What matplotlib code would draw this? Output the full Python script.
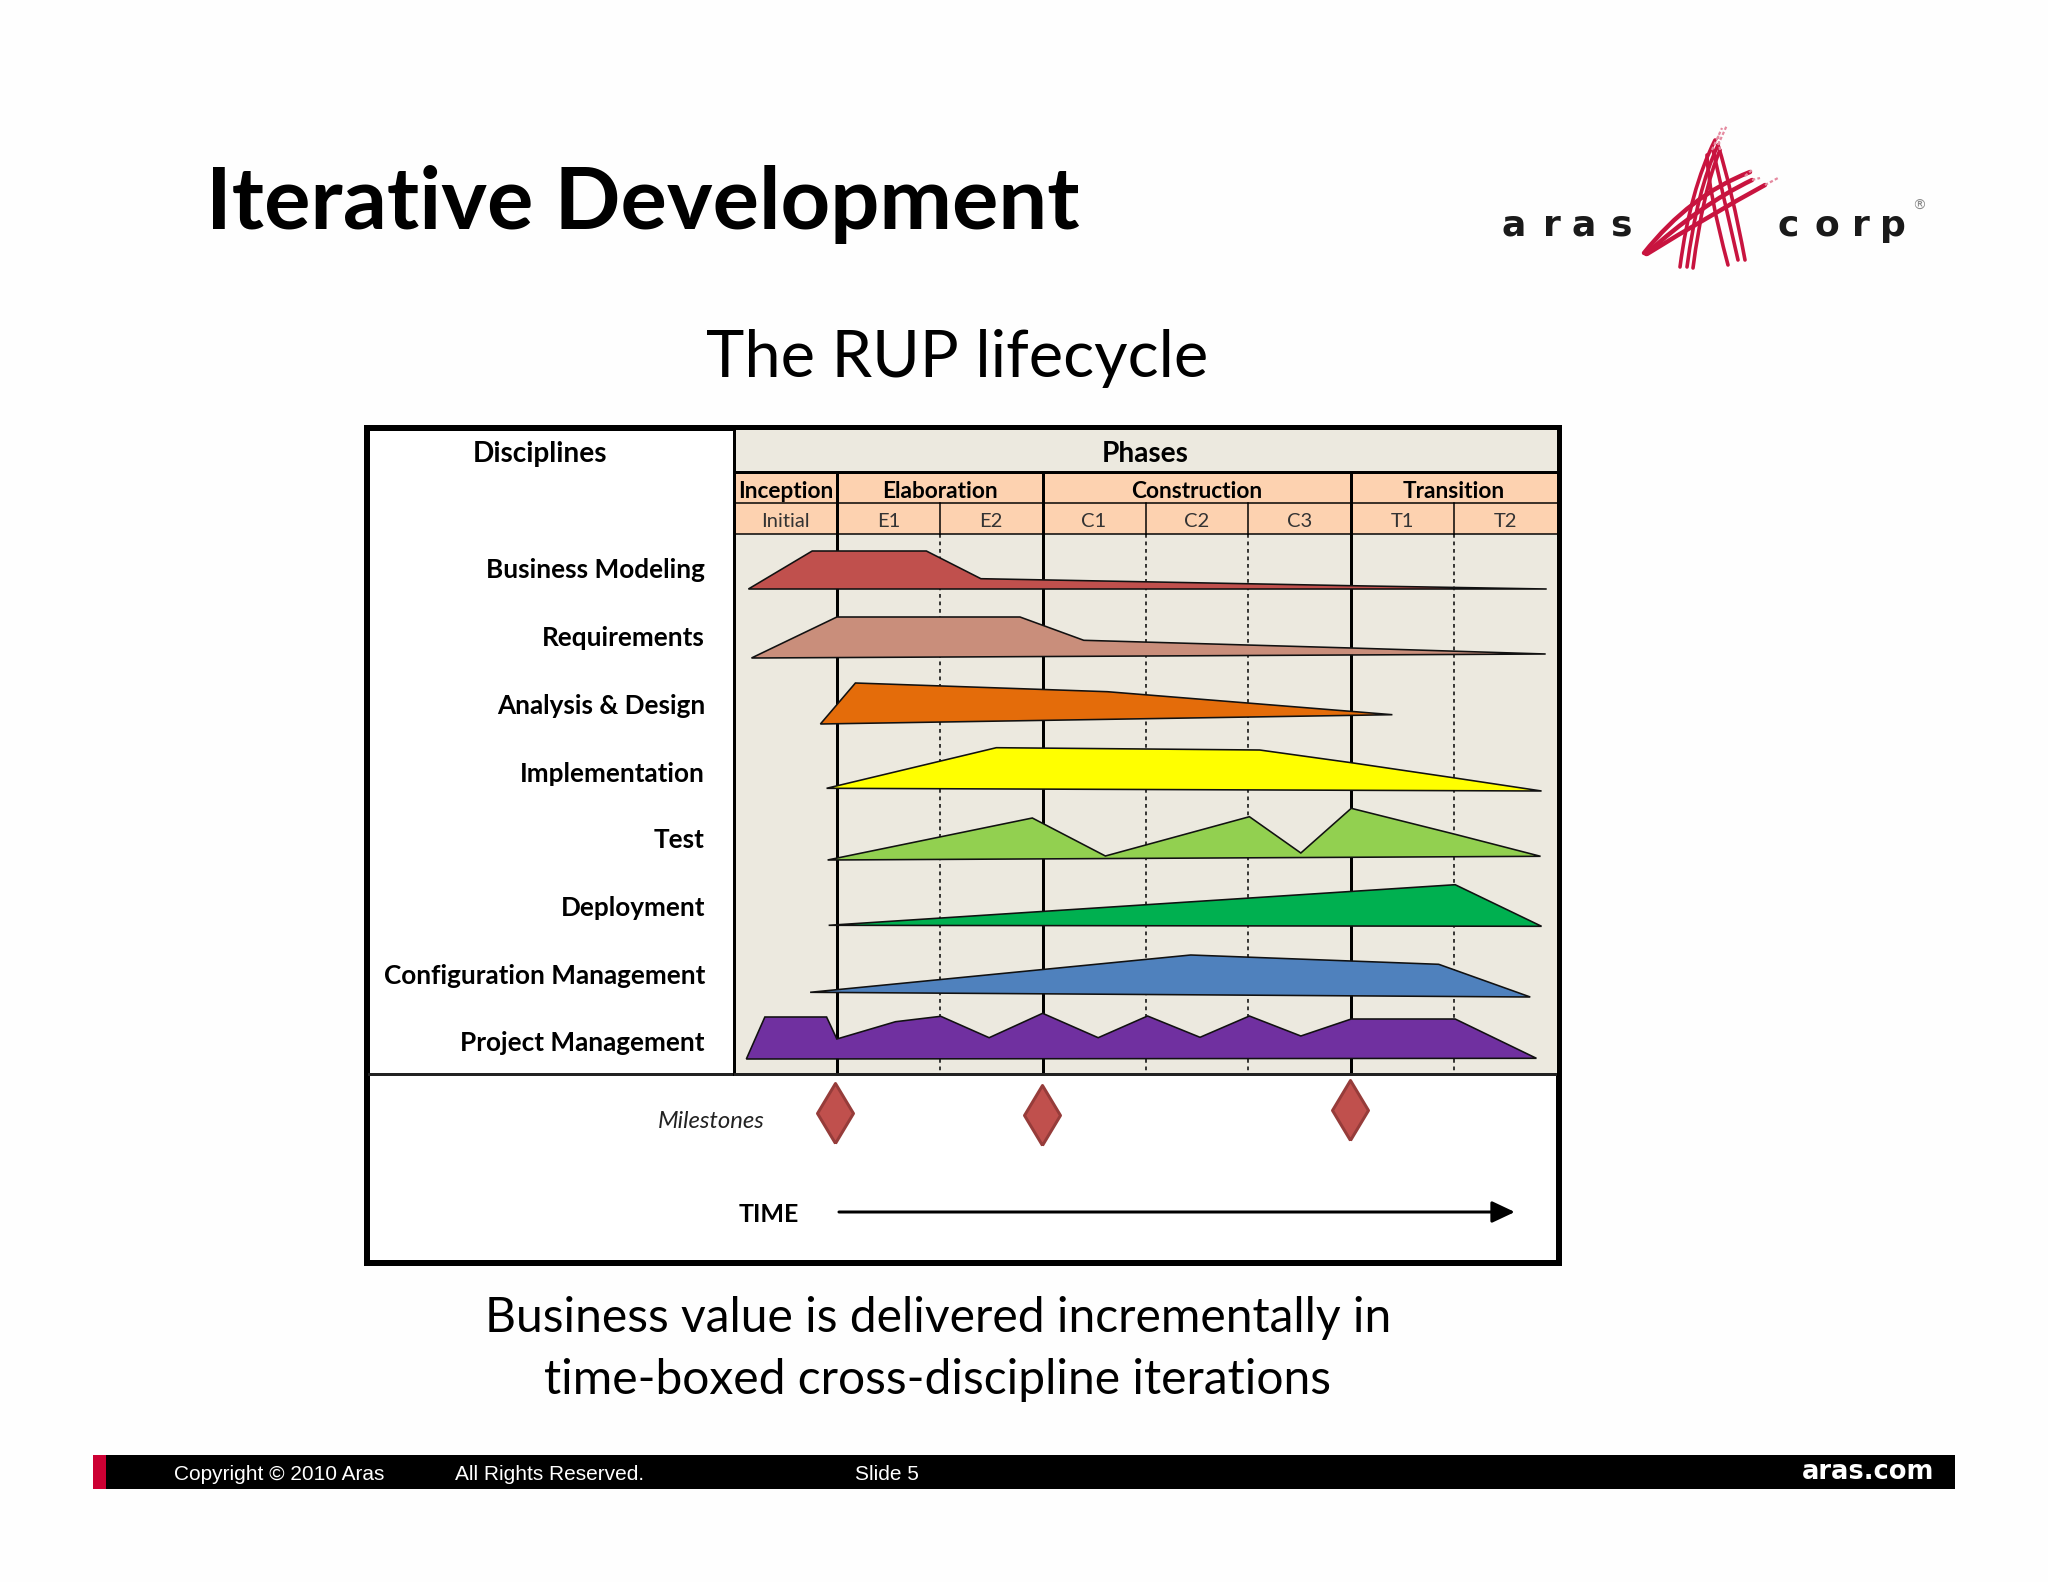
import matplotlib
matplotlib.use('Agg')
import matplotlib.pyplot as plt
from matplotlib.patches import Rectangle, Polygon, PathPatch
from matplotlib.path import Path

W, H = 2048, 1582
PX = 0.72  # points per pixel at dpi 100

# disciplines, upper outline of each hump: iteration position and effort above the row base
disciplines = ['Business Modeling', 'Requirements', 'Analysis & Design', 'Implementation',
               'Test', 'Deployment', 'Configuration Management', 'Project Management']
row_base = [589, 658, 724, 790, 860, 926, 993, 1059]
label_y = [570.5, 638.5, 705.5, 773.5, 840.5, 908, 975.5, 1043]
colors = ['#C0504D', '#C98E7B', '#E46C0A', '#FFFF00', '#92D050', '#00B050', '#4F81BD', '#7030A0']

bm_x = [0.14, 0.76, 1.87, 2.40, 6.00, 7.90]
bm_h = [0, 38, 38, 10.3, 3.3, 0]
req_x = [0.17, 1.00, 2.78, 3.40, 6.00, 7.89]
req_h = [0, 41, 41, 17.7, 10, 4]
ad_x = [0.84, 1.18, 2.59, 3.63, 6.40]
ad_h = [0, 41, 36, 32.3, 9.3]
impl_x = [0.90, 2.55, 5.11, 6.00, 7.01, 7.85]
impl_h = [1.7, 42.3, 40, 27.3, 12, -1]
test_x = [0.91, 2.90, 3.61, 5.01, 5.51, 6.00, 7.01, 7.84]
test_h = [0, 42, 4, 43.3, 7, 51.7, 25.7, 3.7]
dep_x = [0.92, 7.01, 7.85]
dep_h = [0.7, 41.3, -0.3]
cm_x = [0.74, 4.44, 6.85, 7.74]
cm_h = [0.7, 38, 28.7, -4]
pm_x = [0.12, 0.30, 0.90, 1.00, 1.57, 2.01, 2.48, 3.00, 3.54, 4.02, 4.53, 5.01, 5.51, 6.00, 7.01, 7.80]
pm_h = [0, 42, 42, 20, 37.3, 42.7, 21.3, 45.7, 21.3, 43, 21.7, 43, 23, 40, 40, 0.7]
hump_x = [bm_x, req_x, ad_x, impl_x, test_x, dep_x, cm_x, pm_x]
hump_h = [bm_h, req_h, ad_h, impl_h, test_h, dep_h, cm_h, pm_h]

phases = ['Inception', 'Elaboration', 'Construction', 'Transition']
phase_edges = [0, 1, 3, 6, 8]
iterations = ['Initial', 'E1', 'E2', 'C1', 'C2', 'C3', 'T1', 'T2']
iteration_edges = [2, 4, 5, 7]
milestone_x = [0.98, 2.99, 5.99]
milestone_y = [1113, 1115, 1110]

# hand traced logo strokes, (start, control, end)
logo_legs = [
    ((1680, 267), (1690, 190), (1715, 140)), ((1687, 267), (1697, 190), (1718, 145)),
    ((1693, 268), (1703, 190), (1720, 150)), ((1728, 265), (1708, 190), (1707, 155)),
    ((1738, 260), (1722, 190), (1713, 150)), ((1745, 260), (1732, 190), (1718, 145)),
]
logo_swoosh = [
    ((1644, 253), (1690, 195), (1750, 172)), ((1646, 254), (1700, 205), (1752, 180)),
    ((1647, 254), (1710, 215), (1765, 185)),
]
logo_tips = [
    ((1712, 150), (1722, 128)), ((1718, 145), (1727, 125)), ((1720, 150), (1718, 135)),
    ((1745, 176), (1752, 170)), ((1752, 180), (1760, 178)), ((1765, 185), (1778, 178)),
]
logo_left = ['a', 'r', 'a', 's']
logo_left_x = [1514, 1552, 1584, 1621]
logo_right = ['c', 'o', 'r', 'p']
logo_right_x = [1788, 1827, 1861, 1893]

fig = plt.figure(figsize=(W / 100, H / 100), dpi=100, facecolor='#FEFEFE')

# slide layer, in pixels
ax = fig.add_axes([0, 0, 1, 1])
ax.set_xlim(0, W)
ax.set_ylim(H, 0)
ax.axis('off')

ax.text(206, 204, 'Iterative Development', family='Lato', weight='bold', fontsize=62.5, ha='left', va='center', color='black')
ax.text(957, 358, 'The RUP lifecycle', family='Lato', fontsize=46.7, ha='center', va='center', color='black')
ax.text(938, 1318, 'Business value is delivered incrementally in', family='Lato', fontsize=34.6, ha='center', va='center', color='black')
ax.text(938, 1380, 'time-boxed cross-discipline iterations', family='Lato', fontsize=34.6, ha='center', va='center', color='black')

# logo
for ch, x in zip(logo_left, logo_left_x):
    ax.text(x, 226, ch, family='DejaVu Sans', weight='bold', fontsize=26, ha='center', va='center', color='#1A1A1A')
for ch, x in zip(logo_right, logo_right_x):
    ax.text(x, 226, ch, family='DejaVu Sans', weight='bold', fontsize=26, ha='center', va='center', color='#1A1A1A')
ax.text(1919, 206, '®', family='DejaVu Sans', fontsize=10, ha='center', va='center', color='#888888')
for s in logo_legs:
    p = Path(list(s), [Path.MOVETO, Path.CURVE3, Path.CURVE3])
    ax.add_patch(PathPatch(p, fc='none', ec='#C8143F', lw=2.6, capstyle='round'))
for s in logo_swoosh:
    p = Path(list(s), [Path.MOVETO, Path.CURVE3, Path.CURVE3])
    ax.add_patch(PathPatch(p, fc='none', ec='#C8143F', lw=3.2, capstyle='round'))
for a, b in logo_tips:
    ax.plot([a[0], b[0]], [a[1], b[1]], color='#E58AA0', lw=1.6, ls=(0, (1.5, 1)))

# frame of the lifecycle figure
ax.add_patch(Rectangle((367, 428), 1192, 835, fc='white', ec='black', lw=6 * PX, zorder=1))

# footer
ax.add_patch(Rectangle((93, 1455), 13, 34, fc='#CC0033', ec='none'))
ax.add_patch(Rectangle((106, 1455), 1849, 34, fc='black', ec='none'))
ax.text(174, 1475, 'Copyright © 2010 Aras', family='Liberation Sans', fontsize=15, color='white', ha='left', va='center')
ax.text(455, 1475, 'All Rights Reserved.', family='Liberation Sans', fontsize=15, color='white', ha='left', va='center')
ax.text(855, 1475, 'Slide 5', family='Liberation Sans', fontsize=15, color='white', ha='left', va='center')
ax.text(1934, 1472, 'aras.com', family='DejaVu Sans', weight='bold', fontsize=18.5, color='white', ha='right', va='center')

# left pane labels
ax.text(540, 454, 'Disciplines', family='Lato', weight='bold', fontsize=20.2, ha='center', va='center', color='black', zorder=5)
for name, y in zip(disciplines, label_y):
    ax.text(705, y, name, family='Lato', weight='bold', fontsize=18.8, ha='right', va='center', color='black', zorder=5)
ax.text(711, 1122, 'Milestones', family='Lato', style='italic', fontsize=17.2, ha='center', va='center', color='#222222', zorder=5)
ax.text(769, 1215, 'TIME', family='Lato', weight='bold', fontsize=18, ha='center', va='center', color='black', zorder=5)
ax.plot([369, 734], [1074, 1074], color='#222222', lw=3 * PX, zorder=4)

# chart layer: x in iterations, y stays in slide pixels
cx = fig.add_axes([734 / W, 1 - 1261 / H, 823 / W, 831 / H], zorder=3)
cx.set_xlim(0, 8)
cx.set_ylim(1261, 430)
cx.axis('off')
cx.patch.set_alpha(0)

cx.add_patch(Rectangle((0, 430), 8, 644, fc='#ECE9DF', ec='none', zorder=1))
cx.add_patch(Rectangle((0, 472), 8, 62, fc='#FDD2B0', ec='none', zorder=1))

cx.plot([0, 8], [472, 472], color='black', lw=3 * PX, zorder=2)
cx.plot([0, 8], [503, 503], color='black', lw=1.5 * PX, zorder=2)
cx.plot([0, 8], [534, 534], color='black', lw=1.5 * PX, zorder=2)
cx.plot([0, 0], [430, 1074], color='black', lw=3 * PX, zorder=4, clip_on=False)
cx.plot([-0.01, 8], [1074, 1074], color='#222222', lw=3 * PX, zorder=4)

for e in phase_edges[1:-1]:
    cx.plot([e, e], [472, 1074], color='black', lw=3 * PX, zorder=2)
for e in iteration_edges:
    cx.plot([e, e], [503, 534], color='black', lw=1.5 * PX, zorder=2)
    cx.plot([e, e], [534, 1074], color='black', lw=1.5 * PX, ls=(0, (2.5, 2.5)), zorder=2)

for i, name in enumerate(phases):
    mid = (phase_edges[i] + phase_edges[i + 1]) / 2
    cx.text(mid, 491.5, name, family='Lato', weight='bold', fontsize=16.3, ha='center', va='center', color='black', zorder=5)
for i, name in enumerate(iterations):
    cx.text(i + 0.5, 521.5, name, family='Lato', fontsize=14.5, ha='center', va='center', color='#333333', zorder=5)
cx.text(4, 454, 'Phases', family='Lato', weight='bold', fontsize=20.2, ha='center', va='center', color='black', zorder=5)

for base, xs, hs, col in zip(row_base, hump_x, hump_h, colors):
    pts = [(x, base - h) for x, h in zip(xs, hs)]
    cx.add_patch(Polygon(pts, closed=True, fc=col, ec='#111111', lw=1.6 * PX, joinstyle='miter', zorder=3))

diamond = [(0, -1), (0.6, 0), (0, 1), (-0.6, 0), (0, -1)]
cx.plot(milestone_x, milestone_y, ls='none', marker=diamond, ms=60 * PX, mfc='#C0504D', mec='#963C3A', mew=3 * PX, zorder=3, clip_on=False)

cx.annotate('', xy=(7.59, 1212), xytext=(1.02, 1212),
            arrowprops=dict(arrowstyle='-|>,head_length=0.7,head_width=0.33', color='black', lw=3 * PX, shrinkA=0, shrinkB=0, mutation_scale=20))

fig.savefig('out.png', dpi=100, facecolor=fig.get_facecolor())
